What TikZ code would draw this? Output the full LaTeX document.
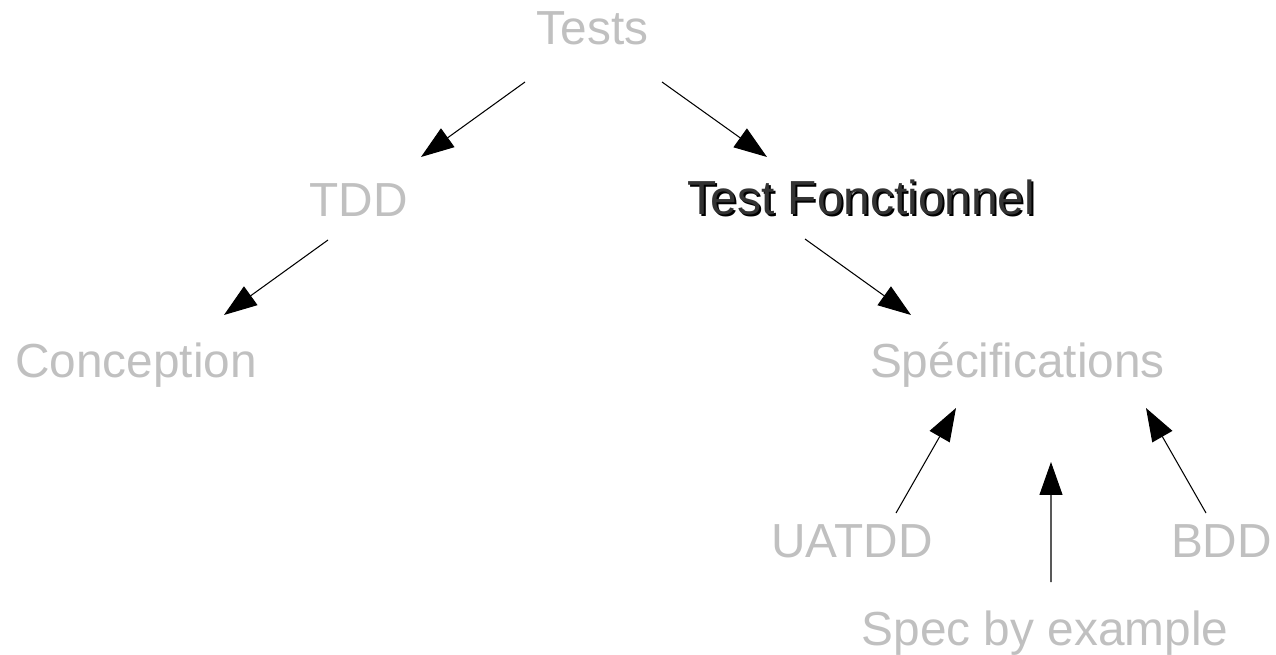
\documentclass[tikz,border=0pt]{standalone}
\usepackage{fontspec}
\setmainfont{Liberation Sans}
\usepackage{xcolor}
\usetikzlibrary{arrows.meta}
\definecolor{labelGrey}{RGB}{192,192,192}
\definecolor{labelDark}{RGB}{51,51,51}
\newcommand{\treeFont}{\fontsize{27.2}{31}\selectfont}
\newcommand{\picWidth}{1276}
\newcommand{\picHeight}{655}
\newcommand{\shadowOffset}{2}

\begin{document}
\begin{tikzpicture}[x=0.02cm, y=-0.02cm,
    term/.style={text=labelGrey, font=\treeFont, inner sep=0pt, anchor=base},
    chosen/.style={term, text=labelDark},
    chosenShadow/.style={term, text=black},
    arr/.style={line width=0.6pt, -{Triangle[length=0.66cm, width=0.46cm]}}]

      \useasboundingbox (0,0) rectangle (\picWidth,\picHeight);

      \node[term] (tests) at (592.5,45) {Tests};
      \node[term] (tdd) at (358.5,217) {TDD};
      \node[chosenShadow] (tfshadow) at (861+\shadowOffset,215+\shadowOffset) {Test Fonctionnel};
      \node[chosen] (tf) at (861,215) {Test Fonctionnel};
      \node[term] (conception) at (136,378) {Conception};
      \node[term] (spec) at (1017.5,378) {Spécifications};
      \node[term] (uatdd) at (852,558) {UATDD};
      \node[term] (bdd) at (1221.5,558) {BDD};
      \node[term] (sbe) at (1045,645) {Spec by example};

%top level
\draw[arr] ([shift={(-67.5,37)}]tests.base) -- ([shift={(62.5,-60)}]tdd.base);
\draw[arr] ([shift={(69.5,37)}]tests.base) -- ([shift={(-94,-58)}]tf.base);
%second level
\draw[arr] ([shift={(-30.5,23)}]tdd.base) -- ([shift={(88,-63)}]conception.base);
\draw[arr] ([shift={(-56,24)}]tf.base) -- ([shift={(-106.5,-63)}]spec.base);
%towards the specifications
\draw[arr] ([shift={(44,-45)}]uatdd.base) -- ([shift={(-61.5,30)}]spec.base);
\draw[arr] ([shift={(6,-63)}]sbe.base) -- ([shift={(33.5,84)}]spec.base);
\draw[arr] ([shift={(-15.5,-45)}]bdd.base) -- ([shift={(128.5,30)}]spec.base);
   \end{tikzpicture}
\end{document}
